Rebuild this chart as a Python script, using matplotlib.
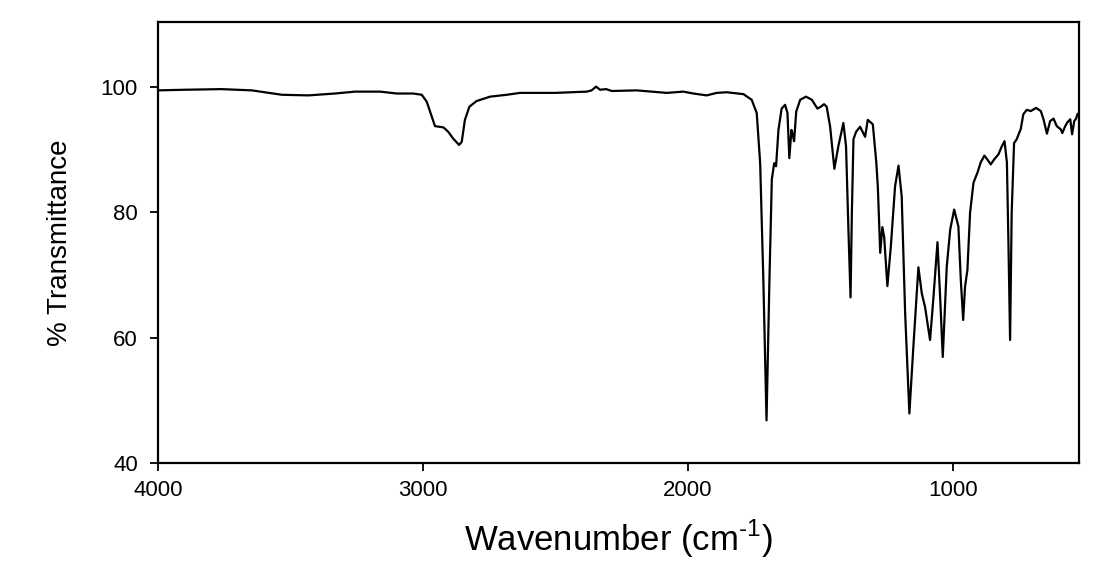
import numpy as np
import matplotlib
matplotlib.use('Agg')
from matplotlib import pyplot as plt

# FTIR spectrum: wavenumber (cm-1) and % transmittance
wavenumber = [4000, 3900, 3760, 3646, 3580, 3533, 3433, 3332, 3257, 3162,
              3099, 3037, 3005, 2986, 2967, 2955, 2923, 2905, 2886, 2864,
              2854, 2842, 2825, 2798, 2747, 2684, 2634, 2500, 2382, 2364,
              2347, 2332, 2309, 2288, 2194, 2080, 2018, 1980, 1930, 1892,
              1854, 1791, 1760, 1741, 1728, 1716, 1704, 1693, 1684, 1675,
              1668, 1659, 1647, 1634, 1625, 1618, 1610, 1605, 1600, 1592,
              1577, 1555, 1533, 1512, 1499, 1487, 1477, 1464, 1448, 1433,
              1414, 1404, 1395, 1387, 1382, 1376, 1366, 1351, 1332, 1322,
              1303, 1290, 1284, 1275, 1267, 1260, 1248, 1235, 1219, 1206,
              1194, 1181, 1165, 1150, 1131, 1118, 1106, 1087, 1074, 1059,
              1049, 1039, 1024, 1011, 996, 980, 971, 962, 955, 946,
              936, 923, 908, 896, 882, 871, 858, 845, 829, 816,
              806, 797, 791, 785, 779, 770, 760, 751, 745, 735,
              722, 707, 687, 669, 659, 646, 634, 621, 609, 594,
              588, 577, 569, 558, 551, 543, 536, 531, 525]
transmittance = [99.4, 99.5, 99.6, 99.4, 99.0, 98.7, 98.6, 98.9, 99.2, 99.2,
                 98.9, 98.9, 98.7, 97.6, 95.2, 93.7, 93.5, 92.8, 91.7, 90.7,
                 91.2, 94.7, 96.8, 97.7, 98.4, 98.7, 99.0, 99.0, 99.2, 99.4,
                 100.0, 99.5, 99.6, 99.3, 99.4, 99.0, 99.2, 98.9, 98.6, 99.0,
                 99.1, 98.8, 97.9, 95.8, 87.8, 69.2, 46.8, 69.2, 85.2, 87.8,
                 87.3, 93.1, 96.5, 97.1, 95.8, 88.6, 93.1, 92.3, 91.3, 96.0,
                 97.9, 98.4, 97.9, 96.5, 96.8, 97.2, 96.8, 93.6, 86.9, 90.5,
                 94.2, 90.5, 77.2, 66.4, 79.9, 91.6, 92.8, 93.6, 92.0, 94.7,
                 94.0, 88.0, 84.0, 73.5, 77.6, 76.0, 68.2, 74.5, 84.1, 87.4,
                 82.5, 63.9, 47.9, 58.5, 71.2, 67.0, 64.9, 59.6, 66.5, 75.2,
                 66.5, 56.9, 71.3, 77.2, 80.4, 77.7, 69.2, 62.8, 68.1, 70.8,
                 79.9, 84.7, 86.3, 87.9, 89.0, 88.4, 87.6, 88.4, 89.2, 90.5,
                 91.3, 87.9, 74.5, 59.6, 79.9, 91.0, 91.6, 92.6, 93.2, 95.6,
                 96.3, 96.1, 96.6, 96.1, 94.8, 92.5, 94.5, 94.9, 93.7, 93.2,
                 92.6, 93.7, 94.3, 94.8, 92.4, 94.5, 94.9, 95.6, 95.8]

xticks = [4000, 3000, 2000, 1000]
yticks = [40, 60, 80, 100]

plt.rcParams['font.family'] = ['Liberation Sans', 'DejaVu Sans']
plt.rcParams['mathtext.fontset'] = 'custom'
plt.rcParams['mathtext.rm'] = 'Liberation Sans'

fig = plt.figure(figsize=(11.2, 5.68), dpi=100)
ax = fig.add_axes([158/1120, 1 - 463/568, (1079-158)/1120, (463-22)/568])

ax.plot(wavenumber, transmittance, color='black', lw=1.6)

ax.set_xlim(4000, 525)
ax.set_ylim(40, 110.3)
ax.set_xticks(xticks)
ax.set_yticks(yticks)
ax.tick_params(direction='out', length=5.5, width=1.3, labelsize=16)
ax.tick_params(axis='x', pad=7)
ax.tick_params(axis='y', pad=9)
for s in ax.spines.values():
    s.set_linewidth(1.6)

ax.set_xlabel('Wavenumber (cm$^{\\text{-}1}$)', fontsize=25, labelpad=12)
ax.set_ylabel('% Transmittance', fontsize=20, labelpad=20)

fig.savefig('out.png', dpi=100)
